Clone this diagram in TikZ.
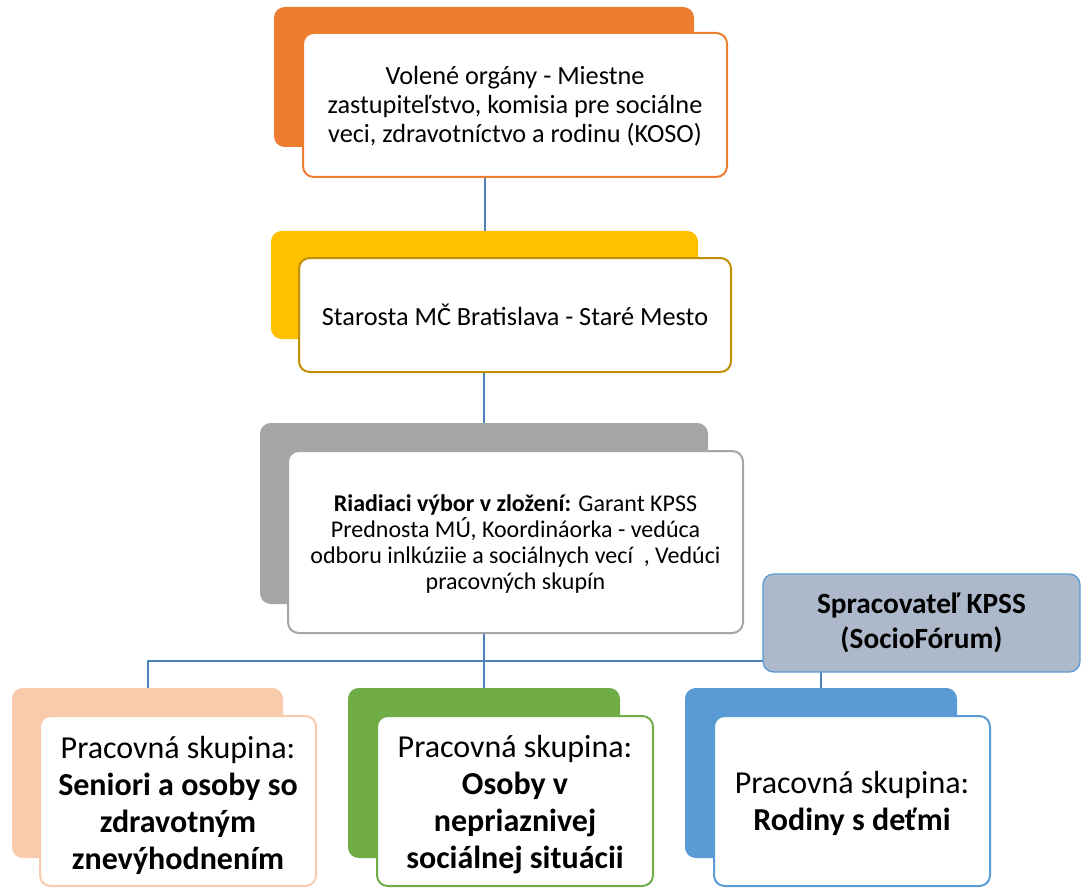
\documentclass[tikz,border=0pt]{standalone}
\usepackage{fontspec}
\setmainfont{Carlito}
\usetikzlibrary{fit}
\definecolor{cOrange}{HTML}{ED7D31}
\definecolor{cYellow}{HTML}{FFC000}
\definecolor{cGold}{HTML}{BF9000}
\definecolor{cGray}{HTML}{A5A5A5}
\definecolor{cPeach}{HTML}{F8CBAD}
\definecolor{cGreen}{HTML}{70AD47}
\definecolor{cBlue}{HTML}{5B9BD5}
\definecolor{cSlate}{HTML}{ADB9CA}
\definecolor{cLine}{HTML}{4F81BD}
\tikzset{
  backbox/.style={rectangle, rounded corners=8pt, inner sep=0pt, draw=none},
  frontbox/.style={rectangle, rounded corners=8pt, inner sep=0pt, fill=white, line width=1.5pt, align=center, text=black},
  conn/.style={draw=cLine, line width=1.5pt},
  txtA/.style={font=\fontsize{19.7}{22}\selectfont},
  txtB/.style={font=\fontsize{18}{19.6}\selectfont},
  txtC/.style={font=\fontsize{24}{27.75}\selectfont},
}
\begin{document}
\begin{tikzpicture}[x=0.75pt,y=-0.75pt]
\useasboundingbox (0,0) rectangle (1082,888);
% level 1
\node[backbox, fill=cOrange, fit={(274,7) (694,147)}] (b1) {};
\node[frontbox, draw=cOrange, fit={(303,33) (727,177)}] (f1) {};
\node[txtA, align=center] (t1) at ([yshift=-1pt]f1.center) {Volené orgány - Miestne\\zastupiteľstvo, komisia pre sociálne\\veci, zdravotníctvo a rodinu (KOSO)};
% level 2
\node[backbox, fill=cYellow, fit={(271,231) (698,339)}] (b2) {};
\node[frontbox, draw=cGold, fit={(299,258) (731,372)}] (f2) {};
\node[txtA] (t2) at (f2.center) {Starosta MČ Bratislava - Staré Mesto};
% level 3
\node[backbox, fill=cGray, fit={(260,423) (708,604)}] (b3) {};
\node[frontbox, draw=cGray, fit={(288,451) (743,633)}] (f3) {};
\node[txtB, align=center] (t3) at ([yshift=-1.5pt]f3.center) {\textbf{Riadiaci výbor v zložení:} Garant KPSS\\Prednosta MÚ, Koordináorka - vedúca\\odboru inlkúziie a sociálnych vecí\ \ , Vedúci\\pracovných skupín};
% level 4
\node[backbox, fill=cPeach, fit={(12,688) (283,858)}] (b4) {};
\node[frontbox, draw=cPeach, fit={(40,716) (316,886)}] (f4) {};
\node[txtC, align=center] (t4) at ([yshift=-3pt]f4.center) {Pracovná skupina:\\\textbf{Seniori a osoby so}\\\textbf{zdravotným}\\\textbf{znevýhodnením}};
\node[backbox, fill=cGreen, fit={(348,688) (620,858)}] (b5) {};
\node[frontbox, draw=cGreen, fit={(377,716) (653,886)}] (f5) {};
\node[txtC, align=center] (t5) at ([yshift=-3pt]f5.center) {Pracovná skupina:\\\textbf{Osoby v}\\\textbf{nepriaznivej}\\\textbf{sociálnej situácii}};
\node[backbox, fill=cBlue, fit={(685,688) (957,858)}] (b6) {};
\node[frontbox, draw=cBlue, fit={(714,716) (990,886)}] (f6) {};
\node[txtC, align=center] (t6) at ([yshift=-1.5pt]f6.center) {Pracovná skupina:\\\textbf{Rodiny s deťmi}};
% connectors
\coordinate (j) at (484,661);
\draw[conn] (b2.north |- f1.south) -- (b2.north);
\draw[conn] (b3.north |- f2.south) -- (b3.north);
\draw[conn] (j |- f3.south) -- (j);
\draw[conn] (j) -- (b5.north);
\draw[conn] (j) -| (b4.north);
\draw[conn] (j) -| (b6.north);
% processor box
\node[rectangle, rounded corners=8pt, inner sep=0pt, fill=cSlate, draw=cBlue, line width=1pt, fit={(763,574) (1080,672)}] (sp) {};
\node[font=\fontsize{22}{26.5}\selectfont\bfseries, align=center] (tsp) at (sp.center) {Spracovateľ KPSS\\(SocioFórum)};
\end{tikzpicture}
\end{document}
